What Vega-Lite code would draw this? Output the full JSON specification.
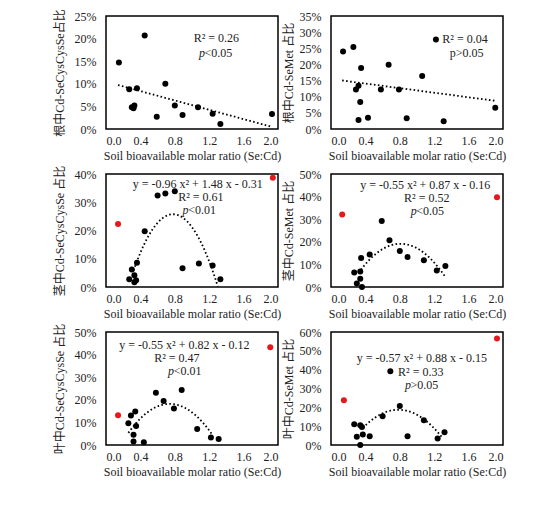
{
  "$schema": "https://vega.github.io/schema/vega-lite/v6.json",
  "description": "Cd-Se species share vs soil bioavailable Se:Cd molar ratio, root / stem / leaf",
  "padding": {"left": 52, "top": 8, "right": 5, "bottom": 5},
  "background": "white",
  "config": {
    "view": {"stroke": "black", "strokeWidth": 1.5},
    "font": "Liberation Serif, Noto Sans CJK SC",
    "axis": {
      "domain": false, "ticks": false, "grid": false,
      "labelFont": "Liberation Serif", "labelFontSize": 12, "labelColor": "#222",
      "titleFont": "Liberation Serif, Noto Sans CJK SC", "titleFontSize": 12,
      "titleFontWeight": "normal", "titleColor": "#222"
    },
    "axisX": {"labelPadding": 6, "titlePadding": 4},
    "axisY": {"labelPadding": 10, "titlePadding": 4},
    "text": {"font": "Liberation Serif", "fontSize": 12, "color": "#222", "align": "left", "baseline": "middle"}
  },
  "datasets": {
    "pts": [
      {"p": 1, "x": 0.15, "y": 0.147, "c": "k"}, {"p": 1, "x": 0.45, "y": 0.207, "c": "k"},
      {"p": 1, "x": 0.27, "y": 0.088, "c": "k"}, {"p": 1, "x": 0.36, "y": 0.090, "c": "k"},
      {"p": 1, "x": 0.69, "y": 0.100, "c": "k"}, {"p": 1, "x": 0.30, "y": 0.048, "c": "k"},
      {"p": 1, "x": 0.33, "y": 0.052, "c": "k"}, {"p": 1, "x": 0.32, "y": 0.046, "c": "k"},
      {"p": 1, "x": 0.59, "y": 0.027, "c": "k"}, {"p": 1, "x": 0.80, "y": 0.052, "c": "k"},
      {"p": 1, "x": 0.89, "y": 0.031, "c": "k"}, {"p": 1, "x": 1.07, "y": 0.048, "c": "k"},
      {"p": 1, "x": 1.24, "y": 0.034, "c": "k"}, {"p": 1, "x": 1.33, "y": 0.011, "c": "k"},
      {"p": 1, "x": 1.93, "y": 0.033, "c": "k"},

      {"p": 2, "x": 0.14, "y": 0.240, "c": "k"}, {"p": 2, "x": 0.26, "y": 0.254, "c": "k"},
      {"p": 2, "x": 0.35, "y": 0.189, "c": "k"}, {"p": 2, "x": 0.67, "y": 0.199, "c": "k"},
      {"p": 2, "x": 1.06, "y": 0.164, "c": "k"}, {"p": 2, "x": 1.22, "y": 0.277, "c": "k"},
      {"p": 2, "x": 0.32, "y": 0.134, "c": "k"}, {"p": 2, "x": 0.29, "y": 0.122, "c": "k"},
      {"p": 2, "x": 0.58, "y": 0.122, "c": "k"}, {"p": 2, "x": 0.79, "y": 0.122, "c": "k"},
      {"p": 2, "x": 0.34, "y": 0.084, "c": "k"}, {"p": 2, "x": 0.32, "y": 0.028, "c": "k"},
      {"p": 2, "x": 0.43, "y": 0.035, "c": "k"}, {"p": 2, "x": 0.88, "y": 0.033, "c": "k"},
      {"p": 2, "x": 1.31, "y": 0.024, "c": "k"}, {"p": 2, "x": 1.91, "y": 0.066, "c": "k"},

      {"p": 3, "x": 0.14, "y": 0.223, "c": "r"}, {"p": 3, "x": 1.94, "y": 0.387, "c": "r"},
      {"p": 3, "x": 0.60, "y": 0.324, "c": "k"}, {"p": 3, "x": 0.69, "y": 0.331, "c": "k"},
      {"p": 3, "x": 0.80, "y": 0.339, "c": "k"}, {"p": 3, "x": 0.45, "y": 0.197, "c": "k"},
      {"p": 3, "x": 0.36, "y": 0.086, "c": "k"}, {"p": 3, "x": 0.30, "y": 0.062, "c": "k"},
      {"p": 3, "x": 0.33, "y": 0.042, "c": "k"}, {"p": 3, "x": 0.27, "y": 0.027, "c": "k"},
      {"p": 3, "x": 0.35, "y": 0.024, "c": "k"}, {"p": 3, "x": 0.33, "y": 0.017, "c": "k"},
      {"p": 3, "x": 0.89, "y": 0.066, "c": "k"}, {"p": 3, "x": 1.08, "y": 0.083, "c": "k"},
      {"p": 3, "x": 1.24, "y": 0.076, "c": "k"}, {"p": 3, "x": 1.33, "y": 0.027, "c": "k"},

      {"p": 4, "x": 0.13, "y": 0.321, "c": "r"}, {"p": 4, "x": 1.93, "y": 0.397, "c": "r"},
      {"p": 4, "x": 0.59, "y": 0.292, "c": "k"}, {"p": 4, "x": 0.68, "y": 0.207, "c": "k"},
      {"p": 4, "x": 0.80, "y": 0.159, "c": "k"}, {"p": 4, "x": 0.89, "y": 0.133, "c": "k"},
      {"p": 4, "x": 1.08, "y": 0.118, "c": "k"}, {"p": 4, "x": 1.23, "y": 0.073, "c": "k"},
      {"p": 4, "x": 1.33, "y": 0.093, "c": "k"}, {"p": 4, "x": 0.45, "y": 0.144, "c": "k"},
      {"p": 4, "x": 0.35, "y": 0.128, "c": "k"}, {"p": 4, "x": 0.27, "y": 0.064, "c": "k"},
      {"p": 4, "x": 0.34, "y": 0.069, "c": "k"}, {"p": 4, "x": 0.34, "y": 0.036, "c": "k"},
      {"p": 4, "x": 0.30, "y": 0.015, "c": "k"}, {"p": 4, "x": 0.36, "y": 0.000, "c": "k"},

      {"p": 5, "x": 0.14, "y": 0.132, "c": "r"}, {"p": 5, "x": 1.91, "y": 0.432, "c": "r"},
      {"p": 5, "x": 0.58, "y": 0.231, "c": "k"}, {"p": 5, "x": 0.88, "y": 0.243, "c": "k"},
      {"p": 5, "x": 0.67, "y": 0.195, "c": "k"}, {"p": 5, "x": 0.79, "y": 0.161, "c": "k"},
      {"p": 5, "x": 0.34, "y": 0.148, "c": "k"}, {"p": 5, "x": 0.29, "y": 0.131, "c": "k"},
      {"p": 5, "x": 0.26, "y": 0.096, "c": "k"}, {"p": 5, "x": 0.35, "y": 0.084, "c": "k"},
      {"p": 5, "x": 0.32, "y": 0.045, "c": "k"}, {"p": 5, "x": 0.32, "y": 0.015, "c": "k"},
      {"p": 5, "x": 0.44, "y": 0.012, "c": "k"}, {"p": 5, "x": 1.06, "y": 0.071, "c": "k"},
      {"p": 5, "x": 1.22, "y": 0.033, "c": "k"}, {"p": 5, "x": 1.31, "y": 0.026, "c": "k"},

      {"p": 6, "x": 0.15, "y": 0.237, "c": "r"}, {"p": 6, "x": 1.93, "y": 0.566, "c": "r"},
      {"p": 6, "x": 0.69, "y": 0.392, "c": "k"}, {"p": 6, "x": 0.80, "y": 0.207, "c": "k"},
      {"p": 6, "x": 0.60, "y": 0.153, "c": "k"}, {"p": 6, "x": 1.08, "y": 0.131, "c": "k"},
      {"p": 6, "x": 0.27, "y": 0.110, "c": "k"}, {"p": 6, "x": 0.34, "y": 0.105, "c": "k"},
      {"p": 6, "x": 0.36, "y": 0.096, "c": "k"}, {"p": 6, "x": 0.30, "y": 0.044, "c": "k"},
      {"p": 6, "x": 0.37, "y": 0.056, "c": "k"}, {"p": 6, "x": 0.45, "y": 0.047, "c": "k"},
      {"p": 6, "x": 0.89, "y": 0.047, "c": "k"}, {"p": 6, "x": 1.24, "y": 0.035, "c": "k"},
      {"p": 6, "x": 1.32, "y": 0.068, "c": "k"}, {"p": 6, "x": 0.34, "y": 0.000, "c": "k"}
    ],
    "notes": [
      {"p": 1, "x": 1.02, "y": 0.201, "t": "R² = 0.26"},
      {"p": 1, "x": 1.08, "y": 0.168, "t": "p", "s": "i"},
      {"p": 1, "x": 1.145, "y": 0.168, "t": "<0.05"},
      {"p": 2, "x": 1.295, "y": 0.279, "t": "R² = 0.04"},
      {"p": 2, "x": 1.38, "y": 0.235, "t": "p>0.05"},
      {"p": 3, "x": 0.31, "y": 0.365, "t": "y = -0.96 x² + 1.48 x - 0.31"},
      {"p": 3, "x": 0.84, "y": 0.318, "t": "R² = 0.61"},
      {"p": 3, "x": 0.89, "y": 0.272, "t": "p", "s": "i"},
      {"p": 3, "x": 0.957, "y": 0.272, "t": "<0.01"},
      {"p": 4, "x": 0.34, "y": 0.452, "t": "y = -0.55 x² + 0.87 x - 0.16"},
      {"p": 4, "x": 0.85, "y": 0.395, "t": "R² = 0.52"},
      {"p": 4, "x": 0.926, "y": 0.335, "t": "p", "s": "i"},
      {"p": 4, "x": 0.99, "y": 0.335, "t": "<0.05"},
      {"p": 5, "x": 0.155, "y": 0.442, "t": "y = -0.55 x² + 0.82 x - 0.12"},
      {"p": 5, "x": 0.56, "y": 0.385, "t": "R² = 0.47"},
      {"p": 5, "x": 0.72, "y": 0.326, "t": "p", "s": "i"},
      {"p": 5, "x": 0.787, "y": 0.326, "t": "<0.01"},
      {"p": 6, "x": 0.30, "y": 0.46, "t": "y = -0.57 x² + 0.88 x - 0.15"},
      {"p": 6, "x": 0.78, "y": 0.39, "t": "R² = 0.33"},
      {"p": 6, "x": 0.86, "y": 0.32, "t": "p", "s": "i"},
      {"p": 6, "x": 0.925, "y": 0.32, "t": ">0.05"}
    ]
  },
  "columns": 2,
  "spacing": {"row": 2, "column": -1},
  "concat": [
    {
      "width": 172, "height": 113,
      "encoding": {
        "x": {"field": "x", "type": "quantitative", "scale": {"domain": [0, 2], "nice": false}, "axis": {"values": [0, 0.4, 0.8, 1.2, 1.6, 2], "format": ".1f", "title": "Soil bioavailable molar ratio (Se:Cd)"}},
        "y": {"field": "y", "type": "quantitative", "scale": {"domain": [0, 0.25], "nice": false}, "axis": {"values": [0, 0.05, 0.1, 0.15, 0.2, 0.25], "format": ".0%", "titlePadding": 8, "title": "根中Cd-SeCysCysSe占比"}}
      },
      "layer": [
        {"data": {"name": "pts"}, "transform": [{"filter": "datum.p == 1"}, {"regression": "y", "on": "x", "extent": [0.14, 1.91]}],
         "mark": {"type": "line", "color": "black", "strokeWidth": 1.8, "strokeDash": [1.6, 2.4], "clip": true}, "encoding": {}},
        {"data": {"name": "pts"}, "transform": [{"filter": "datum.p == 1"}],
         "mark": {"type": "circle", "size": 36, "opacity": 1},
         "encoding": {"color": {"field": "c", "type": "nominal", "scale": {"domain": ["k", "r"], "range": ["black", "#e5181d"]}, "legend": null}}},
        {"data": {"name": "notes"}, "transform": [{"filter": "datum.p == 1 && datum.s != 'i'"}], "mark": {"type": "text"}, "encoding": {"text": {"field": "t"}}},
        {"data": {"name": "notes"}, "transform": [{"filter": "datum.p == 1 && datum.s == 'i'"}], "mark": {"type": "text", "fontStyle": "italic"}, "encoding": {"text": {"field": "t"}}}
      ]
    },
    {
      "width": 172, "height": 113,
      "encoding": {
        "x": {"field": "x", "type": "quantitative", "scale": {"domain": [0, 2], "nice": false}, "axis": {"values": [0, 0.4, 0.8, 1.2, 1.6, 2], "format": ".1f", "title": "Soil bioavailable molar ratio (Se:Cd)"}},
        "y": {"field": "y", "type": "quantitative", "scale": {"domain": [0, 0.35], "nice": false}, "axis": {"values": [0, 0.05, 0.1, 0.15, 0.2, 0.25, 0.3, 0.35], "format": ".0%", "title": "根中Cd-SeMet 占比"}}
      },
      "layer": [
        {"data": {"name": "pts"}, "transform": [{"filter": "datum.p == 2"}, {"regression": "y", "on": "x", "extent": [0.13, 1.91]}],
         "mark": {"type": "line", "color": "black", "strokeWidth": 1.8, "strokeDash": [1.6, 2.4], "clip": true}, "encoding": {}},
        {"data": {"name": "pts"}, "transform": [{"filter": "datum.p == 2"}],
         "mark": {"type": "circle", "size": 36, "opacity": 1},
         "encoding": {"color": {"field": "c", "type": "nominal", "scale": {"domain": ["k", "r"], "range": ["black", "#e5181d"]}, "legend": null}}},
        {"data": {"name": "notes"}, "transform": [{"filter": "datum.p == 2 && datum.s != 'i'"}], "mark": {"type": "text"}, "encoding": {"text": {"field": "t"}}}
      ]
    },
    {
      "width": 172, "height": 113,
      "encoding": {
        "x": {"field": "x", "type": "quantitative", "scale": {"domain": [0, 2], "nice": false}, "axis": {"values": [0, 0.4, 0.8, 1.2, 1.6, 2], "format": ".1f", "title": "Soil bioavailable molar ratio (Se:Cd)"}},
        "y": {"field": "y", "type": "quantitative", "scale": {"domain": [0, 0.4], "nice": false}, "axis": {"values": [0, 0.1, 0.2, 0.3, 0.4], "format": ".0%", "titlePadding": 8, "title": "茎中Cd-SeCysCysSe 占比"}}
      },
      "layer": [
        {"data": {"name": "pts"}, "transform": [{"filter": "datum.p == 3 && datum.c == 'k'"}, {"regression": "y", "on": "x", "method": "poly", "order": 2, "extent": [0.32, 1.3]}],
         "mark": {"type": "line", "color": "black", "strokeWidth": 1.8, "strokeDash": [1.6, 2.4], "clip": true}, "encoding": {}},
        {"data": {"name": "pts"}, "transform": [{"filter": "datum.p == 3"}],
         "mark": {"type": "circle", "size": 36, "opacity": 1},
         "encoding": {"color": {"field": "c", "type": "nominal", "scale": {"domain": ["k", "r"], "range": ["black", "#e5181d"]}, "legend": null}}},
        {"data": {"name": "notes"}, "transform": [{"filter": "datum.p == 3 && datum.s != 'i'"}], "mark": {"type": "text"}, "encoding": {"text": {"field": "t"}}},
        {"data": {"name": "notes"}, "transform": [{"filter": "datum.p == 3 && datum.s == 'i'"}], "mark": {"type": "text", "fontStyle": "italic"}, "encoding": {"text": {"field": "t"}}}
      ]
    },
    {
      "width": 172, "height": 113,
      "encoding": {
        "x": {"field": "x", "type": "quantitative", "scale": {"domain": [0, 2], "nice": false}, "axis": {"values": [0, 0.4, 0.8, 1.2, 1.6, 2], "format": ".1f", "title": "Soil bioavailable molar ratio (Se:Cd)"}},
        "y": {"field": "y", "type": "quantitative", "scale": {"domain": [0, 0.5], "nice": false}, "axis": {"values": [0, 0.1, 0.2, 0.3, 0.4, 0.5], "format": ".0%", "title": "茎中Cd-SeMet 占比"}}
      },
      "layer": [
        {"data": {"name": "pts"}, "transform": [{"filter": "datum.p == 4 && datum.c == 'k'"}, {"regression": "y", "on": "x", "method": "poly", "order": 2, "extent": [0.32, 1.32]}],
         "mark": {"type": "line", "color": "black", "strokeWidth": 1.8, "strokeDash": [1.6, 2.4], "clip": true}, "encoding": {}},
        {"data": {"name": "pts"}, "transform": [{"filter": "datum.p == 4"}],
         "mark": {"type": "circle", "size": 36, "opacity": 1},
         "encoding": {"color": {"field": "c", "type": "nominal", "scale": {"domain": ["k", "r"], "range": ["black", "#e5181d"]}, "legend": null}}},
        {"data": {"name": "notes"}, "transform": [{"filter": "datum.p == 4 && datum.s != 'i'"}], "mark": {"type": "text"}, "encoding": {"text": {"field": "t"}}},
        {"data": {"name": "notes"}, "transform": [{"filter": "datum.p == 4 && datum.s == 'i'"}], "mark": {"type": "text", "fontStyle": "italic"}, "encoding": {"text": {"field": "t"}}}
      ]
    },
    {
      "width": 172, "height": 113,
      "encoding": {
        "x": {"field": "x", "type": "quantitative", "scale": {"domain": [0, 2], "nice": false}, "axis": {"values": [0, 0.4, 0.8, 1.2, 1.6, 2], "format": ".1f", "title": "Soil bioavailable molar ratio (Se:Cd)"}},
        "y": {"field": "y", "type": "quantitative", "scale": {"domain": [0, 0.5], "nice": false}, "axis": {"values": [0, 0.1, 0.2, 0.3, 0.4, 0.5], "format": ".0%", "titlePadding": 8, "title": "叶中Cd-SeCysCysSe 占比"}}
      },
      "layer": [
        {"data": {"name": "pts"}, "transform": [{"filter": "datum.p == 5 && datum.c == 'k'"}, {"regression": "y", "on": "x", "method": "poly", "order": 2, "extent": [0.26, 1.24]}],
         "mark": {"type": "line", "color": "black", "strokeWidth": 1.8, "strokeDash": [1.6, 2.4], "clip": true}, "encoding": {}},
        {"data": {"name": "pts"}, "transform": [{"filter": "datum.p == 5"}],
         "mark": {"type": "circle", "size": 36, "opacity": 1},
         "encoding": {"color": {"field": "c", "type": "nominal", "scale": {"domain": ["k", "r"], "range": ["black", "#e5181d"]}, "legend": null}}},
        {"data": {"name": "notes"}, "transform": [{"filter": "datum.p == 5 && datum.s != 'i'"}], "mark": {"type": "text"}, "encoding": {"text": {"field": "t"}}},
        {"data": {"name": "notes"}, "transform": [{"filter": "datum.p == 5 && datum.s == 'i'"}], "mark": {"type": "text", "fontStyle": "italic"}, "encoding": {"text": {"field": "t"}}}
      ]
    },
    {
      "width": 172, "height": 113,
      "encoding": {
        "x": {"field": "x", "type": "quantitative", "scale": {"domain": [0, 2], "nice": false}, "axis": {"values": [0, 0.4, 0.8, 1.2, 1.6, 2], "format": ".1f", "title": "Soil bioavailable molar ratio (Se:Cd)"}},
        "y": {"field": "y", "type": "quantitative", "scale": {"domain": [0, 0.6], "nice": false}, "axis": {"values": [0, 0.1, 0.2, 0.3, 0.4, 0.5, 0.6], "format": ".0%", "title": "叶中Cd-SeMet 占比"}}
      },
      "layer": [
        {"data": {"name": "pts"}, "transform": [{"filter": "datum.p == 6 && datum.c == 'k'"}, {"regression": "y", "on": "x", "method": "poly", "order": 2, "extent": [0.37, 1.3]}],
         "mark": {"type": "line", "color": "black", "strokeWidth": 1.8, "strokeDash": [1.6, 2.4], "clip": true}, "encoding": {}},
        {"data": {"name": "pts"}, "transform": [{"filter": "datum.p == 6"}],
         "mark": {"type": "circle", "size": 36, "opacity": 1},
         "encoding": {"color": {"field": "c", "type": "nominal", "scale": {"domain": ["k", "r"], "range": ["black", "#e5181d"]}, "legend": null}}},
        {"data": {"name": "notes"}, "transform": [{"filter": "datum.p == 6 && datum.s != 'i'"}], "mark": {"type": "text"}, "encoding": {"text": {"field": "t"}}},
        {"data": {"name": "notes"}, "transform": [{"filter": "datum.p == 6 && datum.s == 'i'"}], "mark": {"type": "text", "fontStyle": "italic"}, "encoding": {"text": {"field": "t"}}}
      ]
    }
  ]
}
